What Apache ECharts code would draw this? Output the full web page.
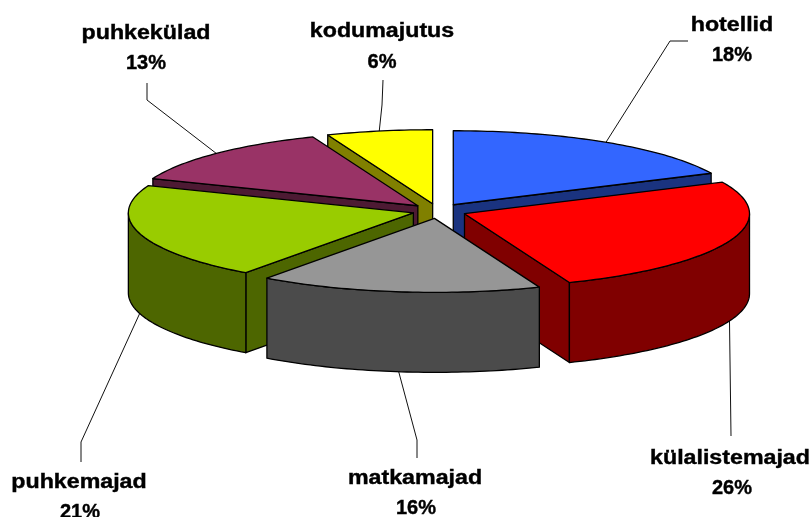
<!DOCTYPE html>
<html>
<head>
<meta charset="utf-8">
<style>
  html, body { margin: 0; background: #fff; }
  #main { width: 811px; height: 517px; }
</style>
<script src="https://cdn.jsdelivr.net/npm/echarts@6/dist/echarts.min.js"></script>
</head>
<body>
<div id="main"></div>
<script>
// chart data
const categories = ['hotellid', 'külalistemajad', 'matkamajad', 'puhkemajad', 'puhkekülad', 'kodumajutus']
const shares = [18, 26, 16, 21, 13, 6]
const topColors = ['#3366ff', '#ff0000', '#969696', '#99cc00', '#993366', '#ffff00']
const wallColors = ['#1a3380', '#800000', '#4b4b4b', '#4d6600', '#4d1a33', '#808000']

// pie geometry
const cx = 438
const cy = 211
const rx = 285
const ry = 74
const depth = 80
const explodes = [0.1, 0.1, 0.1, 0.09, 0.1, 0.1]

// leader line bends and label centres, same order as categories
const leaderBends = [
  [[670, 41], [688, 41]],
  [[731, 436]],
  [[417, 440], [417, 458]],
  [[81, 442], [81, 462]],
  [[147, 100], [147, 83]],
  [[382, 105], [383, 80]]
]
const nameCenters = [[732, 25], [730, 458], [415, 478], [79, 482], [146, 33], [382, 31]]
const shareCenters = [[732, 55], [732, 488], [416, 508], [80, 512], [146, 63], [382, 62]]
const nameStretch = 1.16

const total = shares.reduce((a, b) => a + b, 0)
let running = 0
const slices = shares.map((v, i) => {
  const start = running / total * Math.PI * 2
  running += v
  const end = running / total * Math.PI * 2
  const mid = (start + end) / 2
  return {
    index: i,
    start: start,
    end: end,
    mid: mid,
    ox: cx + explodes[i] * rx * Math.sin(mid),
    oy: cy - explodes[i] * ry * Math.cos(mid)
  }
})
// back slices first, so the front ones cover them
const drawOrder = slices.slice().sort((a, b) => Math.cos(b.mid) - Math.cos(a.mid))

function rimPoint(s, a, drop) {
  return [s.ox + rx * Math.sin(a), s.oy - ry * Math.cos(a) + (drop || 0)]
}

function arcPoints(s, a0, a1, drop) {
  const pts = []
  const n = Math.ceil((a1 - a0) / 0.02)
  for (let i = 0; i <= n; i++) pts.push(rimPoint(s, a0 + (a1 - a0) * i / n, drop))
  return pts
}

function poly(points, fill) {
  return {
    type: 'polygon',
    shape: { points: points },
    style: { fill: fill, stroke: '#000', lineWidth: 1.3, lineJoin: 'round' }
  }
}

function renderSlice(params) {
  const s = drawOrder[params.dataIndex]
  const wall = wallColors[s.index]
  const apex = [s.ox, s.oy]
  const apexLow = [s.ox, s.oy + depth]
  const children = []

  // radial walls, only the ones facing the viewer
  if (Math.sin(s.start) < -1e-6) {
    children.push(poly([apex, rimPoint(s, s.start), rimPoint(s, s.start, depth), apexLow], wall))
  }
  if (Math.sin(s.end) > 1e-6) {
    children.push(poly([apex, rimPoint(s, s.end), rimPoint(s, s.end, depth), apexLow], wall))
  }
  // outer wall on the front half of the ellipse
  const a0 = Math.max(s.start, Math.PI / 2)
  const a1 = Math.min(s.end, Math.PI * 1.5)
  if (a1 > a0) {
    children.push(poly(arcPoints(s, a0, a1).concat(arcPoints(s, a0, a1, depth).reverse()), wall))
  }
  // top face
  children.push(poly([apex].concat(arcPoints(s, s.start, s.end)), topColors[s.index]))

  return { type: 'group', children: children }
}

function renderLeader(params) {
  const s = slices[params.dataIndex]
  const front = Math.cos(s.mid) < 0
  const from = rimPoint(s, s.mid, front ? depth : 0)
  return {
    type: 'polyline',
    shape: { points: [from].concat(leaderBends[s.index]) },
    style: { fill: null, stroke: '#111', lineWidth: 1 }
  }
}

function labelText(text, pos, stretch) {
  return {
    type: 'text',
    x: pos[0],
    y: pos[1],
    scaleX: stretch,
    style: {
      text: text,
      fill: '#000',
      stroke: '#000',
      lineWidth: 0.4,
      font: 'bold 20px "Liberation Sans", Arial, sans-serif',
      align: 'center',
      verticalAlign: 'middle'
    }
  }
}

function renderLabel(params) {
  const i = params.dataIndex
  return {
    type: 'group',
    children: [
      labelText(categories[i], nameCenters[i], nameStretch),
      labelText(shares[i] + '%', shareCenters[i], 1)
    ]
  }
}

const chart = echarts.init(document.getElementById('main'), null, { renderer: 'canvas' })
chart.setOption({
  animation: false,
  backgroundColor: '#fff',
  series: [
    {
      type: 'custom',
      coordinateSystem: 'none',
      z: 1,
      silent: true,
      data: shares,
      renderItem: renderLeader
    },
    {
      type: 'custom',
      coordinateSystem: 'none',
      z: 2,
      silent: true,
      data: drawOrder.map(s => shares[s.index]),
      renderItem: renderSlice
    },
    {
      type: 'custom',
      coordinateSystem: 'none',
      z: 3,
      silent: true,
      data: shares,
      renderItem: renderLabel
    }
  ]
})
</script>
</body>
</html>
